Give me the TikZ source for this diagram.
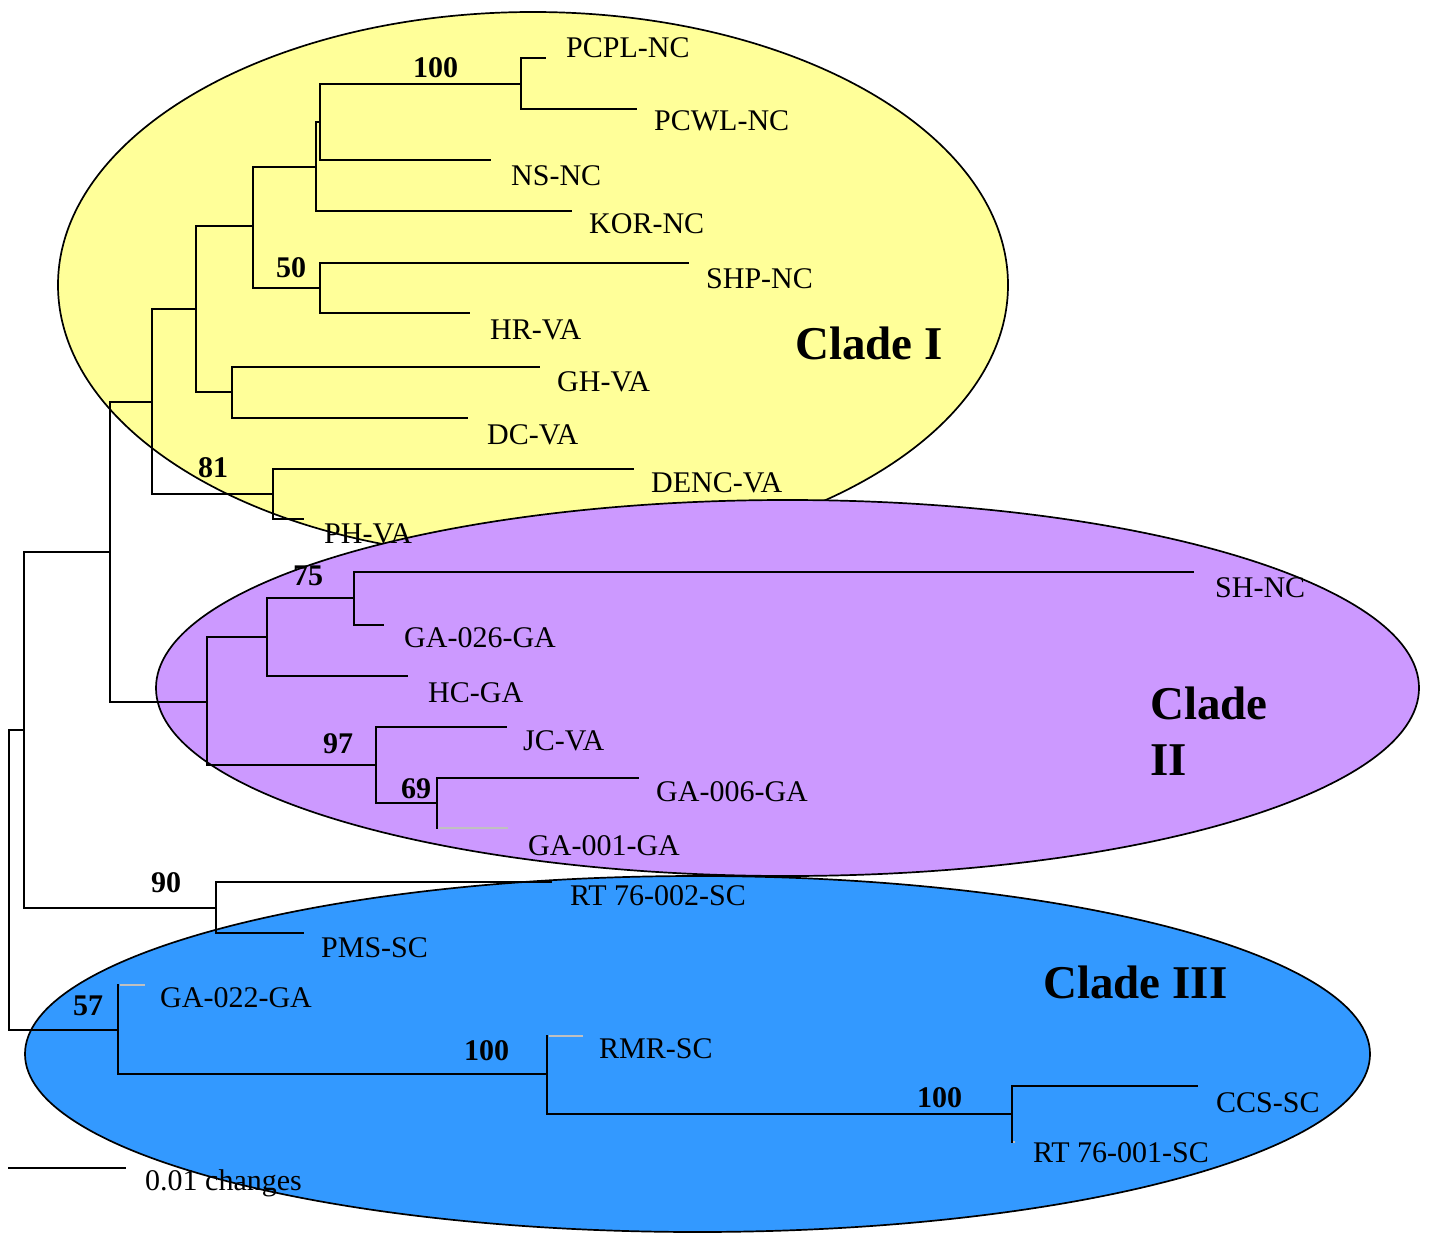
\documentclass[tikz,border=0pt]{standalone}
\usepackage{fontspec}
\setmainfont{Liberation Serif}
\definecolor{cladeyellow}{HTML}{FFFF99}
\definecolor{cladepurple}{HTML}{CC99FF}
\definecolor{cladeblue}{HTML}{3399FF}
\definecolor{stubgray}{HTML}{C0C0C0}
\tikzset{
  branch/.style={line width=2.6pt, black, line cap=rect},
  zerobranch/.style={line width=2.6pt, stubgray},
  cladefill/.style={line width=1.7pt, draw=black},
  leaf/.style={anchor=base west, inner sep=0pt, font=\fontsize{30}{36}\selectfont},
  boot/.style={anchor=base west, inner sep=0pt, font=\bfseries\fontsize{30}{36}\selectfont},
  cladelbl/.style={anchor=base west, inner sep=0pt, font=\bfseries\fontsize{47}{56}\selectfont, align=left}
}
\begin{document}
\begin{tikzpicture}[x=1pt,y=-1pt]
\useasboundingbox (0,0) rectangle (1429,1233);
% clade ellipses
\draw[cladefill, fill=cladeyellow] (533,285) ellipse [x radius=475, y radius=273];
\draw[cladefill, fill=cladepurple] (787.5,688) ellipse [x radius=631.5, y radius=188];
\draw[cladefill, fill=cladeblue] (697.5,1054) ellipse [x radius=672.5, y radius=178];

% internal nodes and tips
\coordinate (r0) at (9,880);
\coordinate (a24) at (24,730);
\coordinate (a110) at (110,552);
\coordinate (a152) at (152,402);
\coordinate (a196) at (196,309);
\coordinate (a253) at (253,226);
\coordinate (a316) at (316,167);
\coordinate (a320) at (320,122);
\coordinate (b100a) at (521,84);
\coordinate (tPCPL) at (545,58);
\coordinate (tPCWL) at (636,109);
\coordinate (tNS) at (490,160);
\coordinate (tKOR) at (571,211);
\coordinate (b50) at (320,288);
\coordinate (tSHP) at (688,263);
\coordinate (tHR) at (469,313);
\coordinate (a232) at (232,392);
\coordinate (tGH) at (539,367);
\coordinate (tDC) at (467,418);
\coordinate (b81) at (273,494);
\coordinate (tDENC) at (633,469);
\coordinate (tPH) at (303,519);
\coordinate (c207) at (207,702);
\coordinate (a267) at (267,637);
\coordinate (b75) at (354,598);
\coordinate (tSH) at (1193,572);
\coordinate (tGA026) at (383,625);
\coordinate (tHC) at (407,676);
\coordinate (b97) at (376,765);
\coordinate (tJC) at (506,727);
\coordinate (b69) at (437,803);
\coordinate (tGA006) at (638,778);
\coordinate (tGA001) at (508,828);
\coordinate (b90) at (216,908);
\coordinate (tRT002) at (551,882);
\coordinate (tPMS) at (303,933);
\coordinate (c57) at (118,1030);
\coordinate (tGA022) at (145,985);
\coordinate (b100b) at (547,1074);
\coordinate (tRMR) at (583,1036);
\coordinate (b100c) at (1012,1114);
\coordinate (tCCS) at (1197,1086);
\coordinate (tRT001) at (1014.5,1142);

% branches
\draw[branch] (r0) |- (a24);
\draw[branch] (r0) |- (c57);
\draw[branch] (a24) |- (a110);
\draw[branch] (a24) |- (b90);
\draw[branch] (a110) |- (a152);
\draw[branch] (a110) |- (c207);
\draw[branch] (a152) |- (a196);
\draw[branch] (a152) |- (b81);
\draw[branch] (a196) |- (a253);
\draw[branch] (a196) |- (a232);
\draw[branch] (a253) |- (a316);
\draw[branch] (a253) |- (b50);
\draw[branch] (a316) |- (a320);
\draw[branch] (a316) |- (tKOR);
\draw[branch] (a320) |- (b100a);
\draw[branch] (a320) |- (tNS);
\draw[branch] (b100a) |- (tPCPL);
\draw[branch] (b100a) |- (tPCWL);
\draw[branch] (b50) |- (tSHP);
\draw[branch] (b50) |- (tHR);
\draw[branch] (a232) |- (tGH);
\draw[branch] (a232) |- (tDC);
\draw[branch] (b81) |- (tDENC);
\draw[branch] (b81) |- (tPH);
\draw[branch] (c207) |- (a267);
\draw[branch] (c207) |- (b97);
\draw[branch] (a267) |- (b75);
\draw[branch] (a267) |- (tHC);
\draw[branch] (b75) |- (tSH);
\draw[branch] (b75) |- (tGA026);
\draw[branch] (b97) |- (tJC);
\draw[branch] (b97) |- (b69);
\draw[branch] (b69) |- (tGA006);
\draw[branch] (b69) -- (b69 |- tGA001);
\draw[zerobranch] ([xshift=1.5pt]b69 |- tGA001) -- (tGA001);
\draw[branch] (b90) |- (tRT002);
\draw[branch] (b90) |- (tPMS);
\draw[branch] (c57) -- (c57 |- tGA022);
\draw[zerobranch] ([xshift=1.5pt]c57 |- tGA022) -- (tGA022);
\draw[branch] (c57) |- (b100b);
\draw[branch] (b100b) -- (b100b |- tRMR);
\draw[zerobranch] ([xshift=1.5pt]b100b |- tRMR) -- (tRMR);
\draw[branch] (b100b) |- (b100c);
\draw[branch] (b100c) |- (tCCS);
\draw[branch] (b100c) -- (b100c |- tRT001);
\draw[zerobranch] ([xshift=1pt]b100c |- tRT001) -- (tRT001);

% bootstrap values
\node[boot] (v100a) at (413,78) {100};
\node[boot] (v50) at (276,278) {50};
\node[boot] (v81) at (198,477) {81};
\node[boot] (v75) at (293,585) {75};
\node[boot] (v97) at (323,753) {97};
\node[boot] (v69) at (401,798) {69};
\node[boot] (v90) at (151,892) {90};
\node[boot] (v57) at (73,1015) {57};
\node[boot] (v100b) at (464,1060) {100};
\node[boot] (v100c) at (917,1107) {100};

% leaf labels
\node[leaf] (lPCPL) at (566,58) {PCPL-NC};
\node[leaf] (lPCWL) at (654,131) {PCWL-NC};
\node[leaf] (lNS) at (511,186) {NS-NC};
\node[leaf] (lKOR) at (589,234) {KOR-NC};
\node[leaf] (lSHP) at (706,288) {SHP-NC};
\node[leaf] (lHR) at (490,339) {HR-VA};
\node[leaf] (lGH) at (557,391) {GH-VA};
\node[leaf] (lDC) at (487,444) {DC-VA};
\node[leaf] (lDENC) at (651,492) {DENC-VA};
\node[leaf] (lPH) at (324,543) {PH-VA};
\node[leaf] (lSH) at (1215,597) {SH-NC};
\node[leaf] (lGA026) at (404,647) {GA-026-GA};
\node[leaf] (lHC) at (428,702) {HC-GA};
\node[leaf] (lJC) at (523,750) {JC-VA};
\node[leaf] (lGA006) at (656,801) {GA-006-GA};
\node[leaf] (lGA001) at (528,855) {GA-001-GA};
\node[leaf] (lRT002) at (570,905) {RT 76-002-SC};
\node[leaf] (lPMS) at (321,957) {PMS-SC};
\node[leaf] (lGA022) at (160,1007) {GA-022-GA};
\node[leaf] (lRMR) at (599,1058) {RMR-SC};
\node[leaf] (lCCS) at (1216,1112) {CCS-SC};
\node[leaf] (lRT001) at (1033,1162) {RT 76-001-SC};

% clade labels
\node[cladelbl] (cl1) at (795,359) {Clade I};
\node[cladelbl] (cl2) at (1150,775) {Clade\\II};
\node[cladelbl] (cl3) at (1043,998) {Clade III};

% scale bar
\coordinate (sb1) at (8,1168);
\coordinate (sb2) at (126,1168);
\draw[line width=2.6pt] (sb1) -- (sb2);
\node[leaf] (sblbl) at (145,1190) {0.01 changes};
\end{tikzpicture}
\end{document}
